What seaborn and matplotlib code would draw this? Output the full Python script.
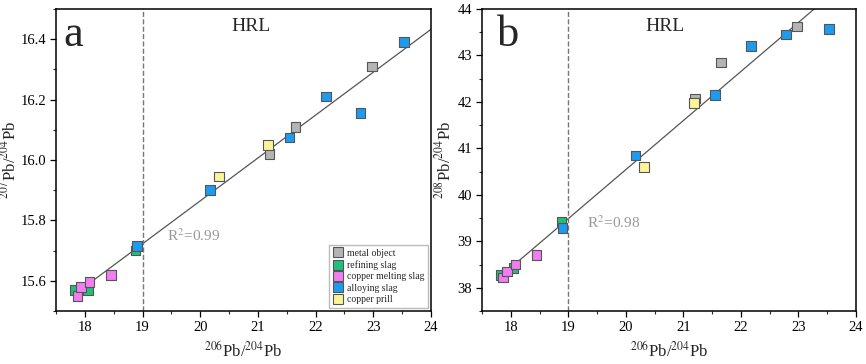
import numpy as np
import pandas as pd
import seaborn as sns
import matplotlib.pyplot as plt

# sample types
types = ["metal object", "refining slag", "copper melting slag", "alloying slag", "copper prill"]
palette = {"metal object": "#b4b4b4", "refining slag": "#1fc07a",
           "copper melting slag": "#f07ef0", "alloying slag": "#1d9bf0",
           "copper prill": "#fbf59a"}

sample_type = (["metal object"] * 3 + ["refining slag"] * 3 + ["copper melting slag"] * 4
               + ["alloying slag"] * 6 + ["copper prill"] * 2)
pb206_204 = [21.20, 21.65, 22.98,
             17.83, 18.05, 18.88,
             17.87, 17.93, 18.08, 18.45,
             18.90, 20.17, 21.55, 22.18, 22.78, 23.53,
             20.32, 21.18]
pb207_204 = [16.02, 16.11, 16.31,
             15.57, 15.57, 15.70,
             15.55, 15.58, 15.595, 15.62,
             15.715, 15.90, 16.075, 16.21, 16.155, 16.39,
             15.945, 16.05]
pb208_204 = [42.07, 42.85, 43.62,
             38.27, 38.42, 39.43,
             38.22, 38.35, 38.50, 38.70,
             39.28, 40.85, 42.15, 43.20, 43.45, 43.57,
             40.60, 41.98]

df = pd.DataFrame({"type": sample_type, "x": pb206_204, "y7": pb207_204, "y8": pb208_204})

sns.set_theme(style="ticks")
plt.rcParams["font.family"] = ["Liberation Serif", "DejaVu Serif"]
plt.rcParams["mathtext.fontset"] = "stix"

fig = plt.figure(figsize=(8.66, 3.64), dpi=100)
ax_a = fig.add_axes([56 / 866, 1 - 311 / 364, 375 / 866, 302 / 364])
ax_b = fig.add_axes([482 / 866, 1 - 311 / 364, 374 / 866, 302 / 364])

panels = [
    (ax_a, "y7", "a", (15.5, 16.5), 0.2, 0.1, r"$^{207}$Pb/$^{204}$Pb", "R$^2$=0.99",
     (19.42, 15.75), 0.02, 0.52, -0.097, "{:.1f}"),
    (ax_b, "y8", "b", (37.5, 44), 1, 0.5, r"$^{208}$Pb/$^{204}$Pb", "R$^2$=0.98",
     (19.33, 39.4), 0.04, 0.49, -0.073, "{:.0f}"),
]

for ax, col, letter, ylim, major, minor, ylabel, r2, r2pos, letter_x, hrl_x, ylab_x, fmt in panels:
    # regression line
    k, b = np.polyfit(df["x"], df[col], 1)
    xs = np.array([17.8, 24.2])
    ax.plot(xs, k * xs + b, color="#555555", lw=0.9, zorder=1)
    ax.axvline(19, color="#777777", ls="--", lw=1.0, zorder=1)
    sns.scatterplot(data=df, x="x", y=col, hue="type", hue_order=types, palette=palette,
                    marker="s", s=48, edgecolor="#555555", linewidth=0.8, ax=ax,
                    legend=(letter == "a"), zorder=3)
    ax.set_xlim(17.5, 24)
    ax.set_ylim(*ylim)
    ax.set_xticks(np.arange(18, 24.1, 1))
    ax.set_xticks(np.arange(17.5, 24.1, 0.5), minor=True)
    ax.set_yticks(np.arange(ylim[0] + (major - ylim[0] % major) % major, ylim[1] + 1e-6, major))
    ax.set_yticks(np.arange(ylim[0], ylim[1] + 1e-6, minor), minor=True)
    ax.set_yticklabels([fmt.format(v) for v in ax.get_yticks()])
    ax.tick_params(which="major", direction="out", length=4, width=0.9, labelsize=10.5,
                   colors="black", pad=3)
    ax.tick_params(which="minor", direction="out", length=2.5, width=0.8)
    for s in ax.spines.values():
        s.set_linewidth(1.1)
        s.set_color("black")
    ax.set_xlabel(r"$^{206}$Pb/$^{204}$Pb", fontsize=12, labelpad=5)
    ax.set_ylabel(ylabel, fontsize=12)
    ax.yaxis.set_label_coords(ylab_x, 0.5)
    ax.text(letter_x, 0.98, letter, transform=ax.transAxes, fontsize=32, va="top", ha="left")
    ax.text(hrl_x, 0.97, "HRL", transform=ax.transAxes, fontsize=14, va="top", ha="center")
    ax.text(r2pos[0], r2pos[1], r2, fontsize=11, color="#999999", va="center")

leg = ax_a.legend(loc="lower right", fontsize=7, frameon=True, fancybox=False,
                  edgecolor="#aaaaaa", borderpad=0.4, labelspacing=0.25,
                  handletextpad=0.4, handlelength=1.0, borderaxespad=0.3)
for h in leg.legend_handles:
    h.set_markersize(7)
    h.set_markeredgecolor("#555555")

fig.savefig("out.png", dpi=100)
